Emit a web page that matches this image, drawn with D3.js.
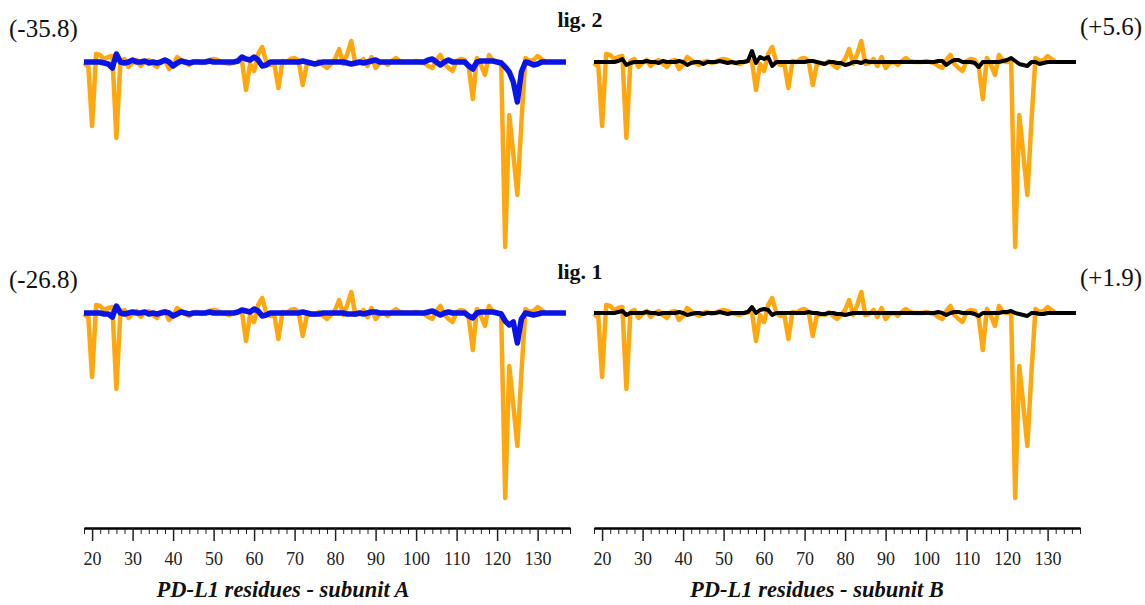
<!DOCTYPE html>
<html>
<head>
<meta charset="utf-8">
<script src="https://cdn.jsdelivr.net/npm/d3@7"></script>
<style>
  body { margin: 0; background: #fff; }
  svg { display: block; }
  text { font-family: "Liberation Serif", "DejaVu Serif", serif; }
</style>
</head>
<body>
<div id="vis"></div>
<script>
// residue numbering starts at 18 for every series
const firstResidue = 18;

// reference profile (orange), residues 18..132
const refProfile = [
  -0.4, 0, -6.4, 0.8, 0.7, 0.3, 0.5, 0.6, -7.6, 0.1,
  0.3, -0.5, -0.1, 0.2, -0.4, 0, 0.2, -0.2, -0.5, 0.1,
  0.2, -0.7, -0.3, 0.5, 0.2, -0.1, -0.3, 0, 0.1, -0.1,
  0, 0.2, 0.3, 0.2, 0, -0.1, -0.2, 0, 0.1, 0.1,
  -2.8, -0.2, -0.9, 0.8, 1.5, 0, -0.3, -0.2, -2.6, 0.1,
  0, 0.3, 0.4, 0.1, -2.3, -0.3, -0.1, -0.2, 0.1, -0.3,
  -0.6, -0.2, 0.3, 1.3, -0.2, 0.8, 2.1, -0.2, -0.1, 0.3,
  -0.4, 0.5, -0.6, -0.1, 0, -0.3, 0.1, 0.4, 0.1, 0,
  0, 0, 0.1, 0, -0.1, -0.4, -0.6, 0.2, 0.7, -0.2,
  -0.6, -0.9, 0.1, 0.3, 0.2, -0.5, -3.7, 0.4, -0.3, -1.3,
  0.7, 0.1, 0, 0, -18.5, -5.3, -9.2, -13.3, -6.0, 0.4,
  0.1, 0.2, 0.6, 0.3, 0
];

// ligand contributions, residues 18..137
const lig2A = [
  0, 0, 0, 0, 0, -0.1, -0.2, -0.6, 0.8, 0,
  -0.1, 0, 0.2, 0, 0, 0.1, -0.1, 0, -0.1, 0,
  0.2, 0, -0.4, -0.1, 0.1, 0, -0.1, 0, 0, 0,
  0, 0.1, 0, 0, 0, 0, 0, 0, 0.1, 0.5,
  0.3, 0.2, 0.5, 0.2, -0.4, -0.3, 0, 0, 0, 0,
  0, 0, 0, 0, 0.1, 0, -0.1, -0.2, -0.1, 0,
  0, 0, 0, 0, 0, -0.1, -0.2, -0.1, 0, -0.1,
  0, 0.1, 0.2, 0, 0, 0, 0, 0, 0, 0,
  0, 0, 0, 0, 0, 0.2, 0.3, 0, -0.3, 0,
  0.2, 0, 0, 0, 0, -0.4, -0.7, 0, 0.1, 0.1,
  0.1, 0.1, 0, -0.1, -0.5, -1.0, -2.0, -4.0, -1.0, 0,
  -0.1, -0.3, -0.2, 0, 0, 0, 0, 0, 0, 0
];

const lig2B = [
  0, 0, 0, 0, 0, 0, 0.1, 0.3, -0.3, -0.1,
  0, 0, 0, 0.1, 0, 0, -0.1, 0.1, 0, 0,
  0, 0.1, 0, -0.3, -0.1, 0, 0, -0.2, 0, 0,
  0, 0.1, 0, -0.1, 0, -0.1, 0, 0, 0.1, 1.1,
  -0.1, 0.5, 0.3, 0.5, -0.4, 0, 0, 0, 0, 0,
  0, 0, 0, 0.1, 0.1, 0, -0.1, -0.2, 0, 0,
  -0.1, -0.1, -0.3, -0.2, 0, 0, -0.1, 0.1, 0, 0,
  0, 0, 0, 0, 0, 0, 0, 0, 0, 0,
  0, 0, 0, 0, 0, 0.1, 0.1, -0.3, 0, 0.2,
  0.2, 0, 0, 0, -0.1, -0.5, 0, 0, 0, 0,
  0, 0.1, 0.2, 0.4, 0.1, -0.2, -0.3, -0.4, 0, 0,
  -0.2, -0.1, 0, 0, 0, 0, 0, 0, 0, 0
];

const lig1A = [
  0, 0, 0, 0, 0, -0.1, -0.1, -0.4, 0.7, 0,
  -0.1, 0, 0.1, 0, 0, 0.1, -0.1, 0, -0.1, 0,
  0.1, 0, -0.3, -0.1, 0.1, 0, -0.1, 0, 0, 0,
  0, 0.1, 0, 0, 0, 0, 0, 0, 0.1, 0.3,
  0.2, 0.1, 0.4, 0.2, -0.3, -0.2, 0, 0, 0, 0,
  0, 0, 0, 0, 0.1, 0, -0.1, -0.1, -0.1, 0,
  0, 0, 0, 0, 0, -0.1, -0.1, -0.1, 0, -0.1,
  0, 0.1, 0.1, 0, 0, 0, 0, 0, 0, 0,
  0, 0, 0, 0, 0, 0.1, 0.2, 0, -0.2, 0,
  0.1, 0, 0, 0, 0, -0.3, -0.5, 0, 0.1, 0.1,
  0.1, 0.1, 0, -0.1, -0.8, -1.2, -0.9, -3.0, -0.6, 0,
  -0.1, -0.2, -0.1, 0, 0, 0, 0, 0, 0, 0
];

const lig1B = [
  0, 0, 0, 0, 0, 0, 0.1, 0.2, -0.2, 0,
  0, 0, 0, 0.1, 0, 0, -0.1, 0, 0, 0,
  0, 0.1, 0, -0.2, -0.1, 0, 0, -0.1, 0, 0,
  0, 0.1, 0, -0.1, 0, 0, 0, 0, 0.1, 0.6,
  0, 0.3, 0.4, 0.3, -0.2, 0, 0, 0, 0, 0,
  0, 0, 0, 0.1, 0, 0, -0.1, -0.1, 0, 0,
  -0.1, -0.1, -0.2, -0.1, 0, 0, 0, 0, 0, 0,
  0, 0, 0, 0, 0, 0, 0, 0, 0, 0,
  0, 0, 0, 0, 0, 0.1, 0, -0.2, 0, 0.1,
  0.1, 0, 0, 0, -0.1, -0.3, 0, 0, 0, 0,
  0, 0.1, 0.1, 0.2, 0, -0.1, -0.2, -0.3, 0, 0,
  -0.1, -0.1, 0, 0, 0, 0, 0, 0, 0, 0
];

const majorTicks = [20, 30, 40, 50, 60, 70, 80, 90, 100, 110, 120, 130];
const minorTicks = [18, 22, 24, 26, 28, 32, 34, 36, 38, 42, 44, 46, 48, 52, 54, 56, 58,
  62, 64, 66, 68, 72, 74, 76, 78, 82, 84, 86, 88, 92, 94, 96, 98, 102, 104, 106, 108,
  112, 114, 116, 118, 122, 124, 126, 128, 132, 134, 136, 138];

const rowLabels = ["lig. 2", "lig. 1"];
const totals = [["(-35.8)", "(+5.6)"], ["(-26.8)", "(+1.9)"]];
const axisTitles = ["PD-L1 residues - subunit A", "PD-L1 residues - subunit B"];

const width = 1145;
const height = 605;

const svg = d3.select("#vis")
  .append("svg")
  .attr("width", width)
  .attr("height", height);

const xLeft = d3.scaleLinear().domain([18, 138]).range([84, 570]);
const xRight = d3.scaleLinear().domain([18, 138]).range([594, 1080]);
const yTop = d3.scaleLinear().domain([0, -18.5]).range([62, 247]);
const yBottom = d3.scaleLinear().domain([0, -18.5]).range([313, 498]);

function toPoints(values) {
  return values.map((v, i) => ({ res: firstResidue + i, v: v }));
}

function panel(x, y, ligand, ligColor, ligWidth) {
  const line = d3.line().x(d => x(d.res)).y(d => y(d.v));
  svg.append("path")
    .datum(toPoints(refProfile))
    .attr("d", line)
    .attr("fill", "none")
    .attr("stroke", "#ffa70f")
    .attr("stroke-width", 4.5)
    .attr("stroke-linejoin", "round");
  svg.append("path")
    .datum(toPoints(ligand))
    .attr("d", line)
    .attr("fill", "none")
    .attr("stroke", ligColor)
    .attr("stroke-width", ligWidth)
    .attr("stroke-linejoin", "round");
}

panel(xLeft, yTop, lig2A, "#0a14e6", 5.5);
panel(xRight, yTop, lig2B, "#000", 4);
panel(xLeft, yBottom, lig1A, "#0a14e6", 5.5);
panel(xRight, yBottom, lig1B, "#000", 4);

// axes at the bottom of each column
[xLeft, xRight].forEach((x, i) => {
  const g = svg.append("g").attr("transform", "translate(0,528)");
  g.append("g")
    .call(d3.axisBottom(x).tickValues(minorTicks).tickSize(6).tickFormat(""))
    .call(a => a.select(".domain").remove());
  const major = g.append("g")
    .call(d3.axisBottom(x).tickValues(majorTicks).tickSize(13).tickSizeOuter(0).tickPadding(11));
  major.select(".domain").attr("stroke-width", 2.5);
  major.selectAll(".tick line").attr("stroke-width", 1.5);
  major.selectAll(".tick text")
    .attr("font-family", "Liberation Serif, serif")
    .attr("font-size", 18)
    .attr("fill", "#222");
  g.selectAll(".tick line").attr("stroke", "#222");

  svg.append("text")
    .attr("x", i === 0 ? 283 : 817)
    .attr("y", 597)
    .attr("text-anchor", "middle")
    .attr("font-size", 22.5)
    .attr("font-weight", "bold")
    .attr("font-style", "italic")
    .attr("fill", "#111")
    .text(axisTitles[i]);
});

// row labels and totals
[[27, 37], [279, 288]].forEach((yy, i) => {
  svg.append("text")
    .attr("x", 580).attr("y", yy[0])
    .attr("text-anchor", "middle")
    .attr("font-size", 22)
    .attr("font-weight", "bold")
    .attr("fill", "#111")
    .text(rowLabels[i]);
  svg.append("text")
    .attr("x", 9).attr("y", yy[1])
    .attr("font-size", 25)
    .attr("fill", "#111")
    .text(totals[i][0]);
  svg.append("text")
    .attr("x", 1142).attr("y", yy[1] - 2)
    .attr("text-anchor", "end")
    .attr("font-size", 25)
    .attr("fill", "#111")
    .text(totals[i][1]);
});
</script>
</body>
</html>
